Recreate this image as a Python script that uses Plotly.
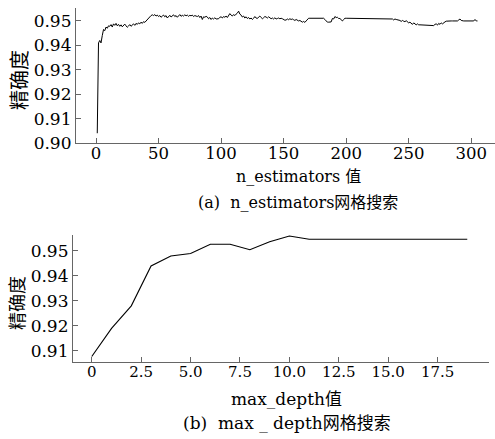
import plotly.graph_objects as go

# (a) n_estimators grid search
n_estimators = list(range(1, 306))
acc_a = [
    0.9040, 0.9410, 0.9420, 0.9410, 0.9440, 0.9465, 0.9460, 0.9475, 0.9470, 0.9480,
    0.9478, 0.9485, 0.9475, 0.9488, 0.9482, 0.9490, 0.9480, 0.9486, 0.9478, 0.9484,
    0.9476, 0.9482, 0.9487, 0.9480, 0.9474, 0.9479, 0.9485, 0.9478, 0.9483, 0.9488,
    0.9482, 0.9490, 0.9486, 0.9492, 0.9488, 0.9495, 0.9490, 0.9497, 0.9494, 0.9500,
    0.9505, 0.9512, 0.9518, 0.9522, 0.9525, 0.9522, 0.9526, 0.9520, 0.9524, 0.9518,
    0.9522, 0.9515, 0.9520, 0.9524, 0.9517, 0.9522, 0.9512, 0.9519, 0.9523, 0.9516,
    0.9520, 0.9525, 0.9518, 0.9522, 0.9515, 0.9521, 0.9526, 0.9519, 0.9523, 0.9520,
    0.9525, 0.9521, 0.9524, 0.9519, 0.9523, 0.9521, 0.9524, 0.9518, 0.9522, 0.9520,
    0.9518, 0.9522, 0.9514, 0.9520, 0.9506, 0.9517, 0.9515, 0.9519, 0.9516, 0.9509,
    0.9514, 0.9506, 0.9512, 0.9508, 0.9513, 0.9508, 0.9510, 0.9509, 0.9515, 0.9517,
    0.9512, 0.9518, 0.9515, 0.9520, 0.9514, 0.9522, 0.9530, 0.9524, 0.9520, 0.9526,
    0.9522, 0.9528, 0.9532, 0.9540, 0.9528, 0.9524, 0.9516, 0.9520, 0.9512, 0.9517,
    0.9510, 0.9514, 0.9508, 0.9512, 0.9506, 0.9511, 0.9518, 0.9512, 0.9510, 0.9516,
    0.9520, 0.9514, 0.9509, 0.9513, 0.9518, 0.9516, 0.9512, 0.9517, 0.9514, 0.9509,
    0.9512, 0.9508, 0.9513, 0.9508, 0.9510, 0.9512, 0.9509, 0.9511, 0.9509, 0.9504,
    0.9503, 0.9504, 0.9508, 0.9505, 0.9509, 0.9506, 0.9508, 0.9505, 0.9502, 0.9506,
    0.9503, 0.9500, 0.9502, 0.9497, 0.9495, 0.9498, 0.9494, 0.9500, 0.9508, 0.9511,
    0.9511, 0.9511, 0.9511, 0.9511, 0.9511, 0.9511, 0.9511, 0.9511, 0.9511, 0.9511,
    0.9511, 0.9511, 0.9506, 0.9500, 0.9495, 0.9495, 0.9495, 0.9496, 0.9510, 0.9508,
    0.9518, 0.9514, 0.9515, 0.9510, 0.9510, 0.9504, 0.9500, 0.9506, 0.9511, 0.9511,
    0.9511, 0.9511, 0.9511, 0.9511, 0.9511, 0.9511, 0.9511, 0.9511, 0.9511, 0.9511,
    0.9511, 0.9511, 0.9511, 0.9511, 0.9511, 0.9511, 0.9511, 0.9511, 0.9511, 0.9511,
    0.9511, 0.9511, 0.9511, 0.9511, 0.9511, 0.9511, 0.9511, 0.9511, 0.9511, 0.9511,
    0.9511, 0.9511, 0.9511, 0.9511, 0.9511, 0.9511, 0.9508, 0.9504, 0.9508, 0.9506,
    0.9505, 0.9502, 0.9502, 0.9498, 0.9502, 0.9499, 0.9497, 0.9501, 0.9495, 0.9492,
    0.9495, 0.9490, 0.9486, 0.9492, 0.9487, 0.9484, 0.9488, 0.9484, 0.9484, 0.9484,
    0.9481, 0.9481, 0.9481, 0.9481, 0.9481, 0.9481, 0.9481, 0.9481, 0.9481, 0.9481,
    0.9486, 0.9488, 0.9483, 0.9490, 0.9486, 0.9492, 0.9488, 0.9494, 0.9496, 0.9499,
    0.9500, 0.9500, 0.9500, 0.9500, 0.9500, 0.9500, 0.9500, 0.9500, 0.9500, 0.9504,
    0.9508, 0.9502, 0.9500, 0.9500, 0.9500, 0.9500, 0.9500, 0.9500, 0.9500, 0.9500,
    0.9500, 0.9500, 0.9506, 0.9500, 0.9500,
]

# (b) max_depth grid search
max_depth = list(range(0, 20))
acc_b = [0.9077, 0.9190, 0.9280, 0.9440, 0.9480, 0.9490, 0.9527, 0.9527, 0.9505, 0.9537,
         0.9560, 0.9547, 0.9547, 0.9547, 0.9547, 0.9547, 0.9547, 0.9547, 0.9547, 0.9547]

xticks_a = [0, 50, 100, 150, 200, 250, 300]
yticks_a = [0.90, 0.91, 0.92, 0.93, 0.94, 0.95]
xticks_b = [0, 2.5, 5.0, 7.5, 10.0, 12.5, 15.0, 17.5]
xticklabels_b = ["0", "2.5", "5.0", "7.5", "10.0", "12.5", "15.0", "17.5"]
yticks_b = [0.91, 0.92, 0.93, 0.94, 0.95]

W, H = 495, 439
FONT = "DejaVu Serif, Noto Sans CJK SC"

def px_x(p):
    return p / W

def px_y(p):
    return 1 - p / H

fig = go.Figure()
fig.add_trace(go.Scatter(x=n_estimators, y=acc_a, mode="lines",
                         line=dict(color="black", width=1), xaxis="x", yaxis="y"))
fig.add_trace(go.Scatter(x=max_depth, y=acc_b, mode="lines",
                         line=dict(color="black", width=1.1), xaxis="x2", yaxis="y2"))

axis_common = dict(showgrid=False, zeroline=False, showline=True, linecolor="#666",
                   linewidth=1.2, ticks="inside", tickcolor="#666", ticklen=5,
                   automargin=False)

def tf(size):
    return dict(family=FONT, size=size, color="black")

fig.update_layout(
    width=W, height=H, margin=dict(l=0, r=0, t=0, b=0),
    paper_bgcolor="white", plot_bgcolor="white", showlegend=False,
    xaxis=dict(domain=[px_x(76), px_x(495)], range=[-16, 319], tickvals=xticks_a,
               anchor="y", tickfont=tf(16.5), ticklabelstandoff=-5, **axis_common),
    yaxis=dict(domain=[px_y(143), px_y(8)], range=[0.90, 0.9553], tickvals=yticks_a,
               tickformat=".2f", anchor="x", tickfont=tf(17), **axis_common),
    xaxis2=dict(domain=[px_x(73), px_x(489)], range=[-0.95, 20.1], tickvals=xticks_b,
                ticktext=xticklabels_b, anchor="y2", tickfont=tf(15),
                ticklabelstandoff=-4, **axis_common),
    yaxis2=dict(domain=[px_y(362), px_y(235)], range=[0.9055, 0.9564], tickvals=yticks_b,
                tickformat=".2f", anchor="x2", tickfont=tf(17), **axis_common),
)

ann = [
    dict(text="精确度", x=px_x(20), y=px_y(80), textangle=-90, size=20),
    dict(text="n_estimators 值", x=px_x(298), y=px_y(177), textangle=0, size=16),
    dict(text="(a)  n_estimators网格搜索", x=px_x(298), y=px_y(202), textangle=0, size=16),
    dict(text="精确度", x=px_x(17), y=px_y(303), textangle=-90, size=18),
    dict(text="max_depth值", x=px_x(286), y=px_y(399), textangle=0, size=17),
    dict(text="(b)  max _ depth网格搜索", x=px_x(287), y=px_y(423), textangle=0, size=17),
]
for a in ann:
    fig.add_annotation(text=a["text"], x=a["x"], y=a["y"], xref="paper", yref="paper",
                       xanchor="center", yanchor="middle", showarrow=False,
                       textangle=a["textangle"], font=tf(a["size"]))

fig.write_html("out.html", config={"displayModeBar": False},
               post_script="document.body.style.margin='0';")
